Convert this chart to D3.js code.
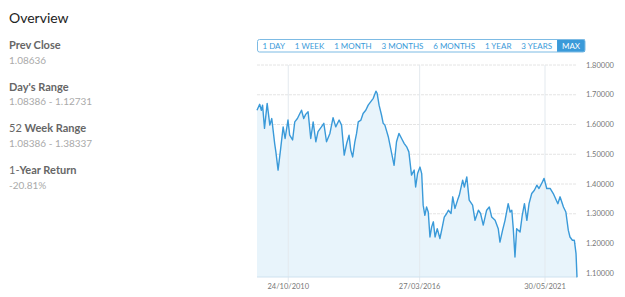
<!DOCTYPE html>
<html>
<head>
<meta charset="utf-8">
<script src="https://cdn.jsdelivr.net/npm/d3@7"></script>
<style>
  body { margin: 0; background: #fff; font-family: Lato, "Open Sans", sans-serif; }
</style>
</head>
<body>
<div id="chart"></div>
<script>
// Close prices (decimal year, close)
const years = [2009.52, 2009.63, 2009.70, 2009.75, 2009.83, 2009.94, 2010.05, 2010.13, 2010.25, 2010.30,
  2010.39, 2010.49, 2010.60, 2010.68, 2010.80, 2010.87, 2010.99, 2011.08, 2011.19, 2011.29,
  2011.36, 2011.45, 2011.53, 2011.63, 2011.74, 2011.84, 2011.95, 2012.04, 2012.18, 2012.28,
  2012.39, 2012.53, 2012.66, 2012.77, 2012.91, 2013.01, 2013.12, 2013.22, 2013.32, 2013.39,
  2013.47, 2013.56, 2013.63, 2013.70, 2013.81, 2013.90, 2014.01, 2014.11, 2014.21, 2014.32,
  2014.43, 2014.48, 2014.56, 2014.66, 2014.73, 2014.80, 2014.94, 2015.08, 2015.18, 2015.28,
  2015.38, 2015.49, 2015.60, 2015.70, 2015.79, 2015.90, 2016.01, 2016.07, 2016.15, 2016.25,
  2016.32, 2016.38, 2016.45, 2016.52, 2016.59, 2016.66, 2016.73, 2016.80, 2016.87, 2016.96,
  2017.07, 2017.17, 2017.25, 2017.35, 2017.42, 2017.53, 2017.60, 2017.69, 2017.80, 2017.87,
  2018.01, 2018.08, 2018.18, 2018.28, 2018.42, 2018.52, 2018.66, 2018.75, 2018.86, 2019.00,
  2019.11, 2019.21, 2019.35, 2019.48, 2019.55, 2019.66, 2019.76, 2019.89, 2019.97, 2020.04,
  2020.10, 2020.17, 2020.24, 2020.38, 2020.47, 2020.56, 2020.66, 2020.75, 2020.86, 2020.97,
  2021.07, 2021.16, 2021.27, 2021.37, 2021.48, 2021.62, 2021.75, 2021.94, 2022.03, 2022.17,
  2022.27, 2022.37, 2022.44, 2022.54, 2022.62, 2022.69, 2022.73];
const closes = [1.648, 1.668, 1.648, 1.665, 1.587, 1.671, 1.598, 1.620, 1.536, 1.508,
  1.447, 1.514, 1.592, 1.553, 1.615, 1.564, 1.548, 1.609, 1.620, 1.637,
  1.648, 1.620, 1.634, 1.643, 1.553, 1.609, 1.542, 1.576, 1.592, 1.604,
  1.542, 1.570, 1.623, 1.592, 1.615, 1.598, 1.497, 1.536, 1.564, 1.514,
  1.491, 1.542, 1.570, 1.609, 1.615, 1.637, 1.648, 1.665, 1.676, 1.688,
  1.712, 1.705, 1.665, 1.632, 1.604, 1.598, 1.559, 1.503, 1.463, 1.542,
  1.570, 1.553, 1.536, 1.525, 1.508, 1.430, 1.447, 1.390, 1.435, 1.457,
  1.435, 1.329, 1.295, 1.323, 1.306, 1.222, 1.256, 1.273, 1.222, 1.250,
  1.217, 1.256, 1.289, 1.301, 1.312, 1.301, 1.357, 1.318, 1.346, 1.362,
  1.413, 1.390, 1.424, 1.346, 1.329, 1.278, 1.312, 1.301, 1.262, 1.312,
  1.323, 1.289, 1.278, 1.250, 1.205, 1.245, 1.278, 1.334, 1.306, 1.312,
  1.250, 1.155, 1.250, 1.239, 1.295, 1.334, 1.278, 1.334, 1.368, 1.379,
  1.396, 1.385, 1.402, 1.419, 1.385, 1.385, 1.368, 1.334, 1.357, 1.323,
  1.306, 1.245, 1.222, 1.211, 1.211, 1.166, 1.08636];

const statLabels = [["", "Prev Close"], ["", "Day's Range"], ["52 ", "Week Range"], ["1-", "Year Return"]];
const statValues = ["1.08636", "1.08386 - 1.12731", "1.08386 - 1.38337", "-20.81%"];
const ranges = ["1 DAY", "1 WEEK", "1 MONTH", "3 MONTHS", "6 MONTHS", "1 YEAR", "3 YEARS", "MAX"];
const activeRange = "MAX";
const yTicks = [1.1, 1.2, 1.3, 1.4, 1.5, 1.6, 1.7, 1.8];
const xTicks = ["2010-10-24", "2016-03-27", "2021-05-30"];

const width = 625, height = 297;
const blue = "#3a9ad9";

function yearToDate(y) {
    const yr = Math.floor(y);
    const a = Date.UTC(yr, 0, 1), b = Date.UTC(yr + 1, 0, 1);
    return new Date(a + (y - yr) * (b - a));
}

const data = years.map((y, i) => ({ date: yearToDate(y), value: closes[i] }));

const svg = d3.select("#chart").append("svg")
    .attr("width", width)
    .attr("height", height);

// left panel
svg.append("text")
    .attr("x", 9).attr("y", 23)
    .attr("font-size", 14)
    .attr("fill", "#222")
    .text("Overview");

const stats = svg.selectAll("g.stat")
    .data(statLabels)
    .enter().append("g")
    .attr("class", "stat")
    .attr("transform", (d, i) => `translate(9, ${49 + i * 41.7})`);

const lbl = stats.append("text")
    .attr("font-size", 11)
    .attr("fill", "#666");
lbl.append("tspan").text(d => d[0]);
lbl.append("tspan").attr("font-weight", "bold").text(d => d[1]);

stats.append("text")
    .attr("y", 14.5)
    .attr("font-size", 10)
    .attr("fill", "#aaa")
    .text((d, i) => statValues[i]);

// plot
const margin = { left: 257, right: 577, top: 65, bottom: 277 };

const x = d3.scaleUtc()
    .domain(d3.extent(data, d => d.date))
    .range([margin.left, margin.right]);

const y = d3.scaleLinear()
    .domain([1.1, 1.8])
    .range([273.3, margin.top]);

// horizontal grid
svg.append("g")
    .selectAll("line")
    .data(yTicks)
    .enter().append("line")
    .attr("x1", margin.left).attr("x2", margin.right)
    .attr("y1", d => y(d)).attr("y2", d => y(d))
    .attr("stroke", "#e4e4e4")
    .attr("stroke-dasharray", "3,1");

// area + line
svg.append("path")
    .datum(data)
    .attr("fill", "#e8f4fb")
    .attr("d", d3.area().x(d => x(d.date)).y0(margin.bottom).y1(d => y(d.value)));

// vertical grid at date ticks
const xTickDates = xTicks.map(s => new Date(s + "T00:00:00Z"));
svg.append("g")
    .selectAll("line")
    .data(xTickDates)
    .enter().append("line")
    .attr("x1", d => x(d)).attr("x2", d => x(d))
    .attr("y1", margin.top).attr("y2", margin.bottom + 5)
    .attr("stroke", "#e3e9ee");

svg.append("line")
    .attr("x1", margin.left).attr("x2", margin.right)
    .attr("y1", margin.bottom).attr("y2", margin.bottom)
    .attr("stroke", "#cfe2ef");

svg.append("path")
    .datum(data)
    .attr("fill", "none")
    .attr("stroke", blue)
    .attr("stroke-width", 1.4)
    .attr("stroke-linejoin", "round")
    .attr("d", d3.line().x(d => x(d.date)).y(d => y(d.value)));

// axis labels
svg.append("g")
    .selectAll("text")
    .data(yTicks)
    .enter().append("text")
    .attr("x", 586).attr("y", d => y(d))
    .attr("dy", "0.35em")
    .attr("font-size", 7.5)
    .attr("fill", "#777")
    .text(d => d3.format(".5f")(d));

const fmt = d3.utcFormat("%d/%m/%Y");
svg.append("g")
    .selectAll("text")
    .data(xTickDates)
    .enter().append("text")
    .attr("x", d => x(d)).attr("y", 289)
    .attr("text-anchor", "middle")
    .attr("font-size", 7.5)
    .attr("fill", "#777")
    .text(d => fmt(d));

// range buttons
const bar = { x0: 257.5, x1: 585, y: 39.5, h: 12.5 };
const btns = svg.append("g");
const labels = btns.selectAll("text")
    .data(ranges)
    .enter().append("text")
    .attr("font-size", 8)
    .attr("text-anchor", "middle")
    .text(d => d);
const widths = labels.nodes().map(n => n.getComputedTextLength());
const pad = ((bar.x1 - bar.x0) - d3.sum(widths)) / (ranges.length * 2);
let cx = bar.x0;
const cells = widths.map(w => { const c = { x: cx, w: w + 2 * pad }; cx += c.w; return c; });

btns.insert("rect", "text")
    .attr("x", cells[ranges.length - 1].x)
    .attr("y", bar.y)
    .attr("width", cells[ranges.length - 1].w)
    .attr("height", bar.h)
    .attr("fill", blue);

btns.append("rect")
    .attr("x", bar.x0).attr("y", bar.y)
    .attr("width", bar.x1 - bar.x0).attr("height", bar.h)
    .attr("rx", 2)
    .attr("fill", "none")
    .attr("stroke", "#7dbbe4");

labels
    .attr("x", (d, i) => cells[i].x + cells[i].w / 2)
    .attr("y", bar.y + bar.h / 2)
    .attr("dy", "0.35em")
    .attr("fill", d => d === activeRange ? "#fff" : blue);
</script>
</body>
</html>
